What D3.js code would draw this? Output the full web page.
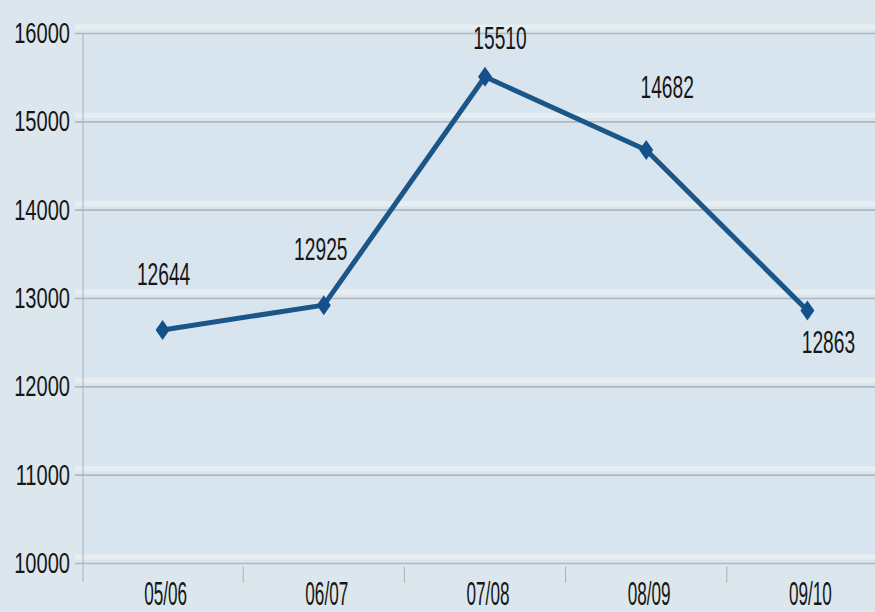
<!DOCTYPE html>
<html>
<head>
<meta charset="utf-8">
<script src="https://cdn.jsdelivr.net/npm/d3@7"></script>
<style>
  html, body { margin: 0; padding: 0; background: #dce6ed; }
  svg { display: block; }
  text { font-family: "Liberation Sans", Arial, sans-serif; fill: #161616; }
</style>
</head>
<body>
<script>
// Season totals
const categories = ["05/06", "06/07", "07/08", "08/09", "09/10"];
const values = [12644, 12925, 15510, 14682, 12863];
const yTicks = [10000, 11000, 12000, 13000, 14000, 15000, 16000];
// Nudges for the value labels relative to their point: [dx, dy]
const labelNudges = [[1, -45], [-3, -45], [15, -28], [21, -52], [21, 42]];

const W = 875, H = 612;
const svg = d3.select("body").append("svg").attr("width", W).attr("height", H);

svg.append("rect").attr("width", W).attr("height", H).attr("fill", "#dce6ed");

const x = d3.scaleBand().domain(categories).range([82, 888]);
const y = d3.scaleLinear().domain([10000, 16000]).range([563.5, 33.5]);

// plot background
svg.append("rect").attr("x", 83).attr("y", y(16000)).attr("width", W - 83)
  .attr("height", y(10000) - y(16000)).attr("fill", "#d9e5ee");

// horizontal grid: light sheen above a grey rule
const grid = svg.append("g");
grid.selectAll("rect.sheen").data(yTicks).join("rect")
  .attr("class", "sheen")
  .attr("x", 75).attr("width", W - 75)
  .attr("y", d => y(d) - 9).attr("height", 5)
  .attr("fill", "#e7eef2");
grid.selectAll("line.rule").data(yTicks).join("line")
  .attr("class", "rule")
  .attr("x1", 75).attr("x2", W)
  .attr("y1", d => y(d)).attr("y2", d => y(d))
  .attr("stroke", "#aeb9be").attr("stroke-width", 1.6);

// y axis
const yAxis = svg.append("g").attr("transform", "translate(83,0)")
  .call(d3.axisLeft(y).tickValues(yTicks).tickSize(0).tickPadding(0).tickFormat(d3.format("d")));
yAxis.select(".domain").attr("stroke", "#a7b1b6").attr("stroke-width", 1)
  .attr("d", `M0,${y(16000)}V582`);
yAxis.selectAll(".tick text")
  .attr("x", null).attr("dy", null)
  .attr("text-anchor", "end")
  .attr("font-size", 30)
  .attr("transform", "translate(-13,9) scale(0.67,1)")
  .style("fill", "#161616");

// x axis
const xAxis = svg.append("g").attr("transform", `translate(0,${y(10000)})`)
  .call(d3.axisBottom(x).tickSize(0).tickPadding(0));
xAxis.select(".domain").remove();
xAxis.selectAll(".tick text")
  .attr("y", null).attr("dy", null)
  .attr("text-anchor", "middle")
  .attr("font-size", 33)
  .attr("transform", "translate(3,41) scale(0.52,1)")
  .style("fill", "#161616");
// band separators
svg.append("g").selectAll("line").data(categories.slice(1)).join("line")
  .attr("x1", d => x(d)).attr("x2", d => x(d))
  .attr("y1", y(10000) + 3).attr("y2", y(10000) + 19)
  .attr("stroke", "#a7b1b6").attr("stroke-width", 1);

const cx = d => x(d) + x.bandwidth() / 2;
const pts = categories.map((c, i) => ({ c, v: values[i], i }));

// series line
svg.append("path").datum(pts)
  .attr("d", d3.line().x(d => cx(d.c)).y(d => y(d.v)))
  .attr("fill", "none").attr("stroke", "#1b5689")
  .attr("stroke-width", 5).attr("stroke-linejoin", "round");

// diamond markers
svg.append("g").selectAll("path").data(pts).join("path")
  .attr("transform", d => `translate(${cx(d.c)},${y(d.v)})`)
  .attr("d", "M0,-10L7,0L0,10L-7,0Z")
  .attr("fill", "#14508a");

// value labels
svg.append("g").selectAll("text").data(pts).join("text")
  .attr("text-anchor", "middle")
  .attr("font-size", 32)
  .attr("transform", d => `translate(${cx(d.c) + labelNudges[d.i][0]},${y(d.v) + labelNudges[d.i][1]}) scale(0.6,1)`)
  .text(d => d.v);
</script>
</body>
</html>
